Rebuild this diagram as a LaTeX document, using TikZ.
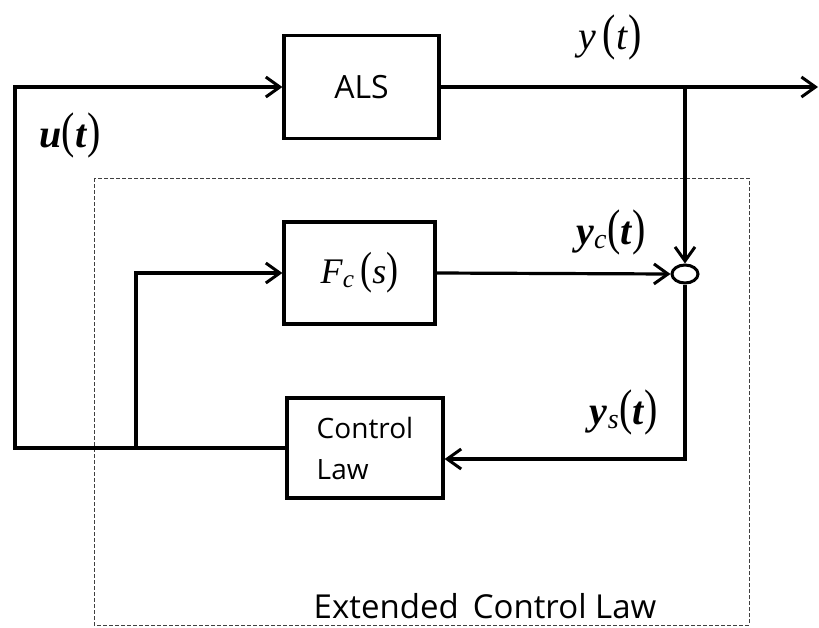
\documentclass[tikz,border=0pt]{standalone}
\usepackage{fontspec}
\setmainfont{Open Sans}
\newfontfamily\lblfont{Liberation Serif}
\usetikzlibrary{arrows.meta,shapes.geometric}

% tall thin brackets round the signal arguments
\newcommand\lpar{\scalebox{1}[1.25]{(}}
\newcommand\rpar{\scalebox{1}[1.25]{)}}

\tikzset{
	blk/.style={draw, line width=3.2pt, inner sep=0pt},
	wire/.style={line width=3.2pt},
	arr/.style={wire, -{Straight Barb[length=14pt,width=20pt,line width=3pt]}},
	sig/.style={font=\lblfont\fontsize{40}{40}\selectfont, inner sep=0pt},
}

\begin{document}
\begin{tikzpicture}[x=1pt,y=-1pt]
		%%%%% START %%%%%
		\useasboundingbox (0,0) rectangle (819,627);
		
		% extended control law boundary
		\draw[line width=1pt, dash pattern=on 4pt off 2pt, black!75] (94,178) rectangle (749,625);
		\node[font=\fontsize{33}{33}\selectfont] (ecl) at (485,606) {Extended\, Control Law};
		
		% blocks
		\node[blk, minimum width=155pt, minimum height=103pt, font=\fontsize{32}{32}\selectfont] (als) at (361.5,87) {ALS};
		\node[blk, minimum width=151pt, minimum height=102pt, font=\lblfont\fontsize{36}{36}\selectfont] (fc) at (359.5,273) {\textit{F}\textsubscript{\textit{c}}\,\lpar\textit{s}\rpar};
		\node[blk, minimum width=156pt, minimum height=100pt, align=left, font=\fontsize{28}{41}\selectfont] (cl) at (365,448) {Control\\Law};
		\node[draw, ellipse, line width=3pt, minimum width=26pt, minimum height=18pt, inner sep=0pt] (sum) at (685,274) {};
		
		% wire corners
		\coordinate (ucorner) at (15,87);
		\coordinate (tap) at (136,448);
		\coordinate (ytap) at (685,87);
		\coordinate (yout) at (818,87);
		
		% signals
		\draw[arr] (cl.west) -| (ucorner) -- (als.west);
		\draw[arr] (tap) |- (fc.west);
		\draw[arr] (als.east) -- (yout);
		\draw[arr] (ytap) -- (sum.north);
		\draw[arr] (fc.east) -- (sum.west);
		\draw[arr] (sum.south) |- ([yshift=-11pt]cl.east);
		
		% signal names
		\node[sig] (ulbl) at (70,135) {\textbf{\textit{u}}\lpar\textbf{\textit{t}}\rpar};
		\node[sig] (ylbl) at (610,37) {\textit{y}\,\lpar\textit{t}\rpar};
		\node[sig] (yclbl) at (611,232) {\textbf{\textit{y}}\textsubscript{\textit{c}}\lpar\textbf{\textit{t}}\rpar};
		\node[sig] (yslbl) at (624,412) {\textbf{\textit{y}}\textsubscript{\textit{s}}\lpar\textbf{\textit{t}}\rpar};
		%%%%% END %%%%%
\end{tikzpicture}
\end{document}
